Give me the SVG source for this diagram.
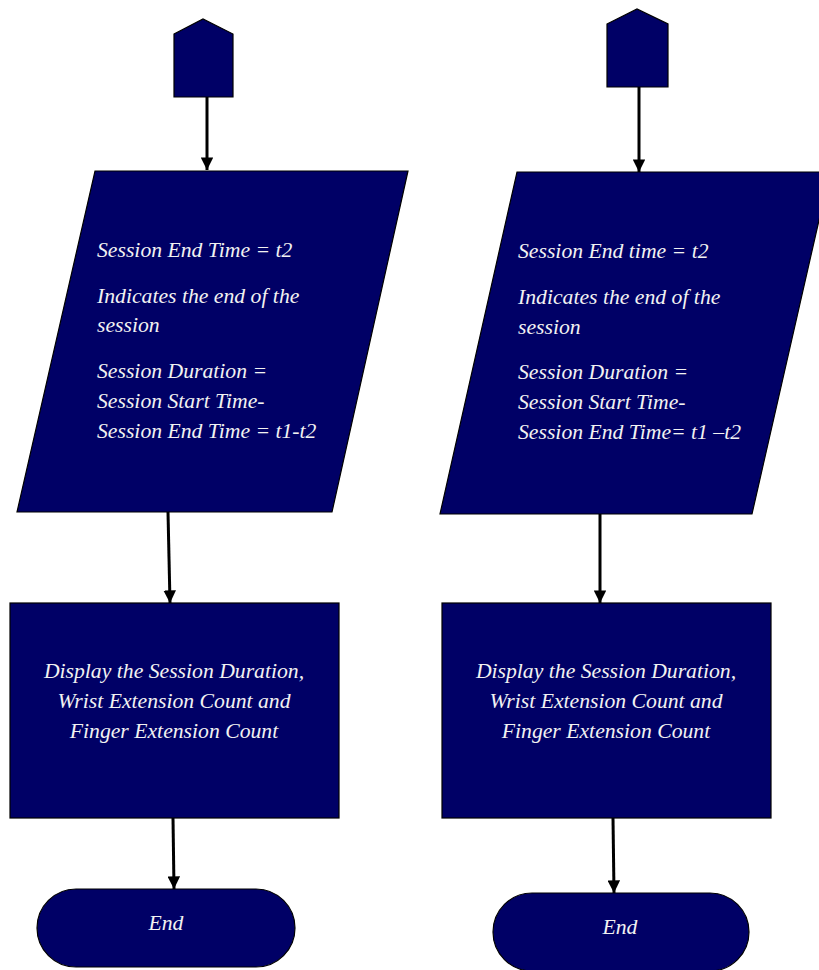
<svg xmlns="http://www.w3.org/2000/svg" width="819" height="970" viewBox="0 0 819 970">
<style>
.shape{fill:#000066;stroke:#000;stroke-width:1.2}
.t{fill:#f2f2f2;font-family:"Liberation Serif","Times New Roman",serif;font-style:italic;font-size:21.7px}
.c{text-anchor:middle}
.conn{stroke:#000;stroke-width:3;fill:none;marker-end:url(#ah)}
</style>
<defs>
<marker id="ah" viewBox="0 0 10 10" refX="10" refY="5" markerWidth="4.2" markerHeight="4.2" orient="auto" markerUnits="strokeWidth">
<path d="M0,0 L10,5 L0,10 z" fill="#000"/>
</marker>
</defs>
<rect width="819" height="970" fill="#fff"/>
<g id="connectors">
<line class="conn" x1="207" y1="97" x2="207" y2="170"/>
<line class="conn" x1="639" y1="87" x2="639" y2="172"/>
<line class="conn" x1="168" y1="512" x2="170" y2="603"/>
<line class="conn" x1="600" y1="514" x2="600" y2="603"/>
<line class="conn" x1="173" y1="818" x2="174" y2="889"/>
<line class="conn" x1="613" y1="818" x2="614" y2="893"/>
</g>
<g id="start-left">
<polygon class="shape" points="174,34 203,19 233,34 233,97 174,97"/>
</g>
<g id="start-right">
<polygon class="shape" points="607,24 637,9 668,24 668,87 607,87"/>
</g>
<g id="io-left">
<polygon class="shape" points="95,171 408,171 332,512 17,512"/>
<text class="t" x="97" y="257">Session End Time = t2</text>
<text class="t" x="97" y="303">Indicates the end of the</text>
<text class="t" x="97" y="332">session</text>
<text class="t" x="97" y="378">Session Duration =</text>
<text class="t" x="97" y="408">Session Start Time-</text>
<text class="t" x="97" y="438">Session End Time = t1-t2</text>
</g>
<g id="io-right">
<polygon class="shape" points="517,172 830,172 752,514 440,514"/>
<text class="t" x="518" y="258">Session End time = t2</text>
<text class="t" x="518" y="304">Indicates the end of the</text>
<text class="t" x="518" y="334">session</text>
<text class="t" x="518" y="379">Session Duration =</text>
<text class="t" x="518" y="409">Session Start Time-</text>
<text class="t" x="518" y="439">Session End Time= t1 –t2</text>
</g>
<g id="display-left">
<rect class="shape" x="10" y="603" width="329" height="215"/>
<text class="t c" x="174" y="678">Display the Session Duration,</text>
<text class="t c" x="174" y="708">Wrist Extension Count and</text>
<text class="t c" x="174" y="738">Finger Extension Count</text>
</g>
<g id="display-right">
<rect class="shape" x="442" y="603" width="329" height="215"/>
<text class="t c" x="606" y="678">Display the Session Duration,</text>
<text class="t c" x="606" y="708">Wrist Extension Count and</text>
<text class="t c" x="606" y="738">Finger Extension Count</text>
</g>
<g id="end-left">
<rect class="shape" x="37" y="889" width="258" height="78" rx="39" ry="39"/>
<text class="t c" x="166" y="930">End</text>
</g>
<g id="end-right">
<rect class="shape" x="493" y="893" width="256" height="78" rx="39" ry="39"/>
<text class="t c" x="620" y="934">End</text>
</g>
</svg>
